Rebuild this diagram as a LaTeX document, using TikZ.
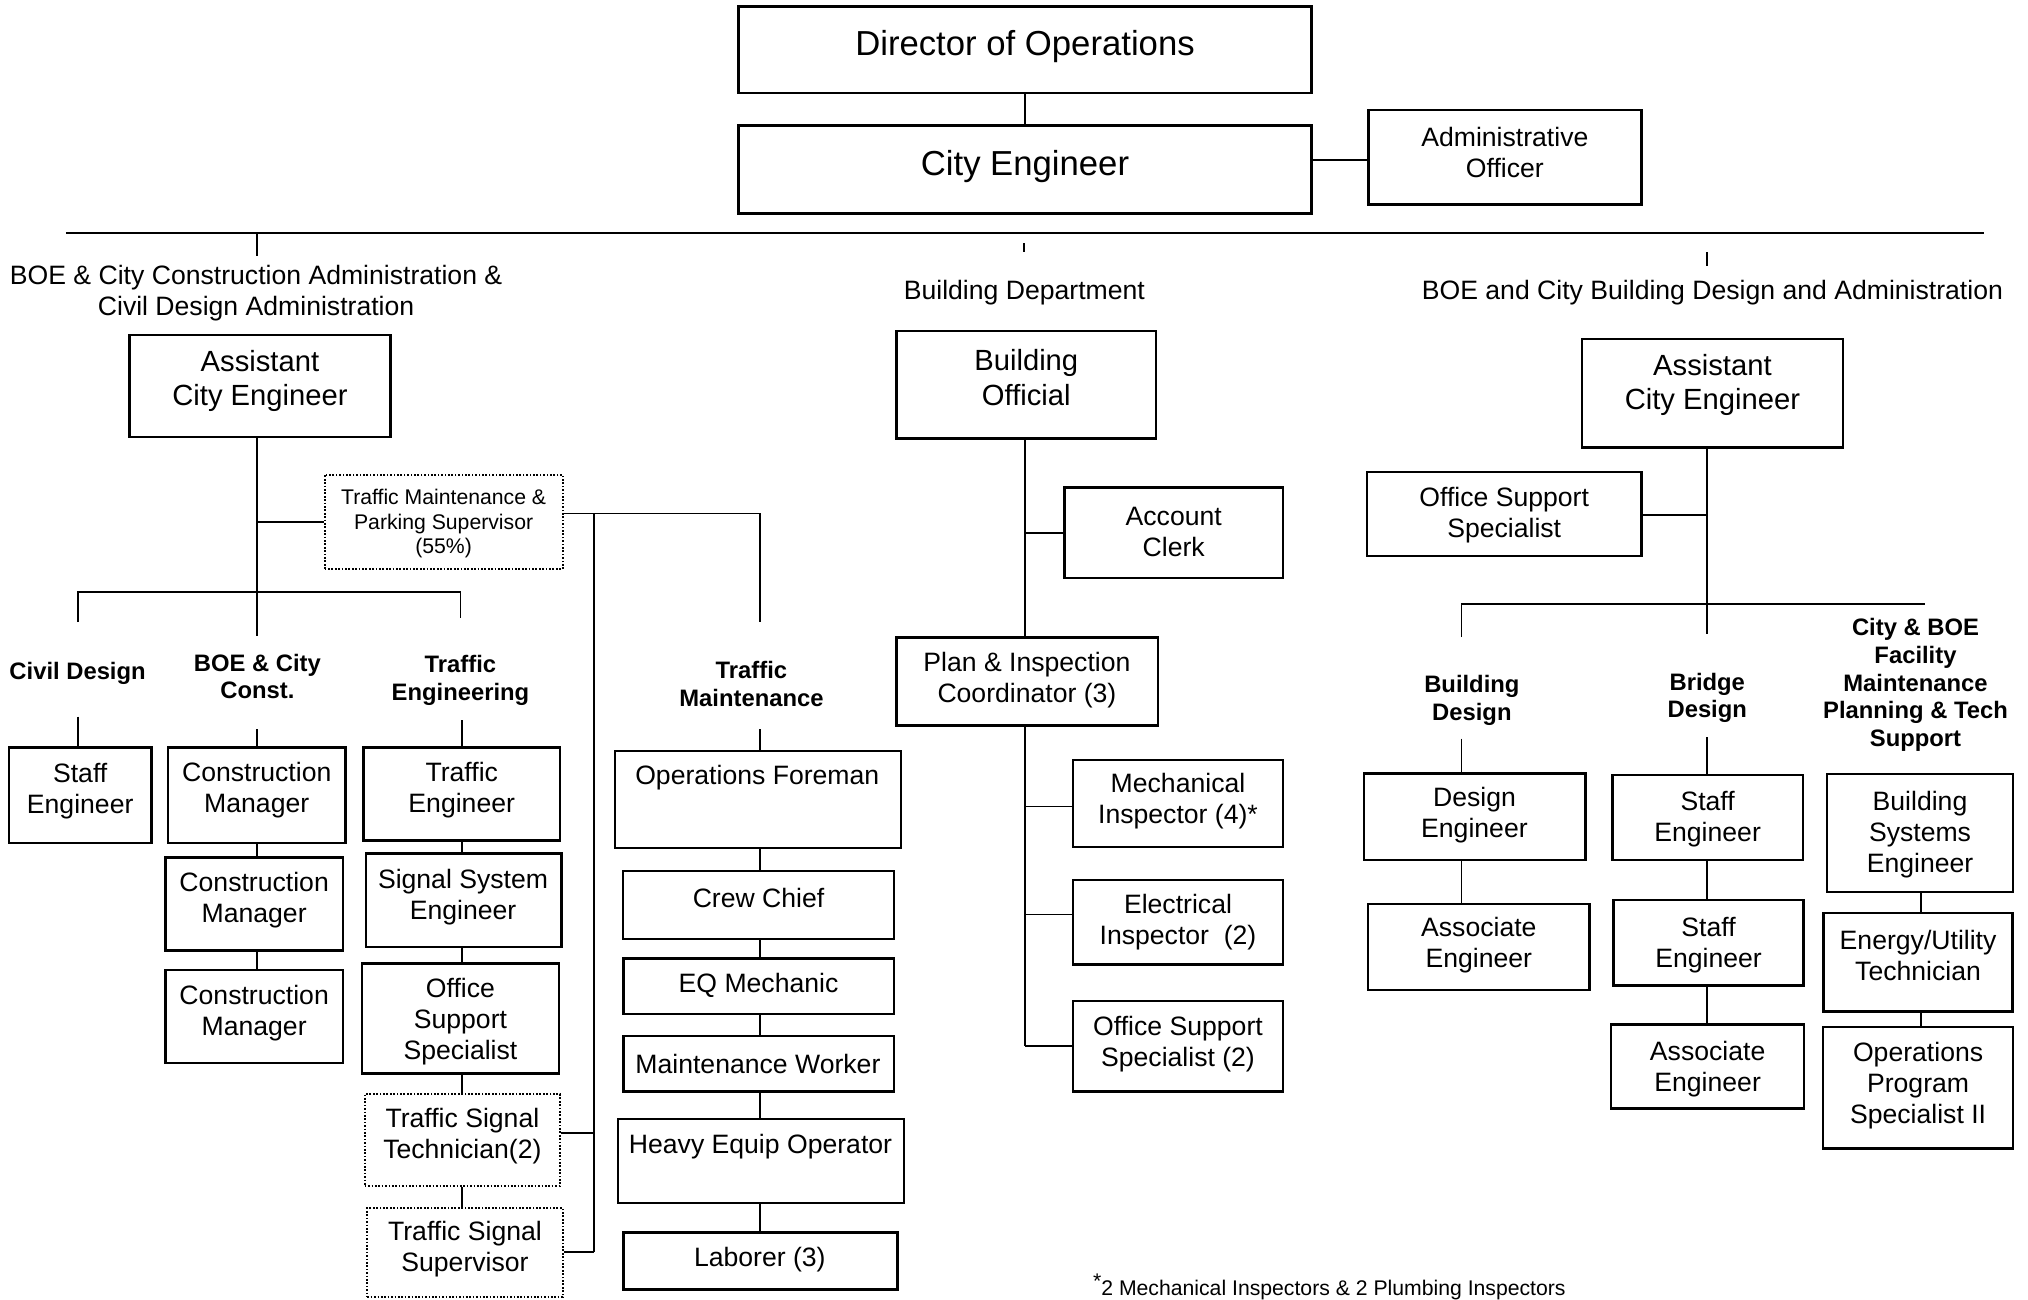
\documentclass[tikz,border=0pt]{standalone}
\usepackage{fontspec}
\setmainfont{Liberation Sans}
\usetikzlibrary{fit}
\begin{document}
\begin{tikzpicture}[x=1.29337pt, y=-1.29337pt,
  box/.style={draw, line width=2.4pt, inner sep=0pt},
  dotbox/.style={draw, line width=2.2pt, dash pattern=on 1.7pt off 1.7pt, inner sep=0pt},
  link/.style={line width=1.8pt},
  rule/.style={line width=2.6pt},
  txt/.style={align=center, inner sep=0pt, yshift=-2.6pt, font=\fontsize{26.6pt}{31pt}\selectfont},
  ttltxt/.style={txt, font=\fontsize{34.7pt}{40pt}\selectfont},
  bigtxt/.style={txt, font=\fontsize{29.2pt}{34.5pt}\selectfont},
  headtxt/.style={txt, font=\fontsize{23.8pt}{27.6pt}\selectfont\bfseries},
  smalltxt/.style={txt, font=\fontsize{21.2pt}{24.6pt}\selectfont},
]
\useasboundingbox (0,0) rectangle (1568,1005.1);

% ---------- top level ----------
\node[box, fit={(571,5) (1014,72)}] (dir) {};
\node[ttltxt] (dir-t) at (792.5,34) {Director of Operations};
\node[box, fit={(571,97) (1014,165)}] (ce) {};
\node[ttltxt] (ce-t) at (792.5,127) {City Engineer};
\node[box, fit={(1058,85) (1269,158)}] (ao) {};
\node[txt] (ao-t) at (1163.5,116) {Administrative\\Officer};
\draw[link] (dir) -- (ce);
\draw[link] (ce.east |- 0,124) -- (ao.west |- 0,124);

\coordinate (hl0) at (51,180);
\coordinate (hl1) at (1534,180);
\draw[rule] (hl0) -- (hl1);
\coordinate (tk1a) at (199,180); \coordinate (tk1b) at (199,198);
\coordinate (tk2a) at (792,188); \coordinate (tk2b) at (792,195);
\coordinate (tk3a) at (1320,195); \coordinate (tk3b) at (1320,206);
\draw[link] (tk1a) -- (tk1b);
\draw[link] (tk2a) -- (tk2b);
\draw[link] (tk3a) -- (tk3b);

\node[txt] (hd1) at (198,225) {BOE \& City Construction Administration \&\\Civil Design Administration};
\node[txt] (hd2) at (792,224.5) {Building Department};
\node[txt] (hd3) at (1324,224) {BOE and City Building Design and Administration};

% ---------- construction / civil / traffic ----------
\node[box, fit={(100,259) (302,338)}] (ace1) {};
\node[bigtxt] (ace1-t) at (201,292.5) {Assistant\\City Engineer};
\coordinate (lv) at (199,492);
\draw[link] (ace1.south -| lv) -- (lv);

\node[dotbox, fit={(251,367) (435,440)}] (tms) {};
\node[smalltxt] (tms-t) at (343,403) {Traffic Maintenance \&\\Parking Supervisor\\(55\%)};
\draw[link] (lv |- tms.west) -- (tms.west);

\coordinate (lb0) at (60,481); \coordinate (lb1) at (60,458);
\coordinate (lb2) at (356,458); \coordinate (lb3) at (356,478);
\draw[link] (lb0) -- (lb1) -- (lb2) -- (lb3);

\node[headtxt] (g1) at (60,519) {Civil Design};
\node[headtxt] (g2) at (199,521) {BOE \& City\\Const.};
\node[headtxt] (g3) at (356,524) {Traffic\\Engineering};
\node[headtxt] (g4) at (581,527) {Traffic\\Maintenance};

\node[box, fit={(7,578) (117,652)}] (se1) {};
\node[txt] (se1-t) at (62,609.5) {Staff\\Engineer};
\coordinate (g1t) at (60,554);
\draw[link] (g1t) -- (g1t |- se1.north);

\node[box, fit={(130,578) (267,652)}] (cm1) {};
\node[txt] (cm1-t) at (198.5,609) {Construction\\Manager};
\node[box, fit={(128,663) (265,735)}] (cm2) {};
\node[txt] (cm2-t) at (196.5,694) {Construction\\Manager};
\node[box, fit={(128,750) (265,822)}] (cm3) {};
\node[txt] (cm3-t) at (196.5,781) {Construction\\Manager};
\coordinate (g2t) at (199,564);
\draw[link] (g2t) -- (g2t |- cm1.north);
\draw[link] (cm1.south -| g2t) -- (cm2.north -| g2t);
\draw[link] (cm2.south -| g2t) -- (cm3.north -| g2t);

\node[box, fit={(281,578) (433,650)}] (te) {};
\node[txt] (te-t) at (357,609) {Traffic\\Engineer};
\node[box, fit={(283,660) (434,732)}] (sse) {};
\node[txt] (sse-t) at (358,692) {Signal System\\Engineer};
\node[box, fit={(280,745) (432,830)}] (oss1) {};
\node[txt] (oss1-t) at (356,787.7) {Office\\Support\\Specialist};
\node[dotbox, fit={(282,846) (433,917)}] (tst) {};
\node[txt] (tst-t) at (357.5,876.5) {Traffic Signal\\Technician(2)};
\node[dotbox, fit={(284,934) (435,1003)}] (tss) {};
\node[txt] (tss-t) at (359.5,964) {Traffic Signal\\Supervisor};
\coordinate (g3t) at (357,557);
\draw[link] (g3t) -- (g3t |- te.north);
\draw[link] (te.south -| g3t) -- (sse.north -| g3t);
\draw[link] (sse.south -| g3t) -- (oss1.north -| g3t);
\draw[link] (oss1.south -| g3t) -- (tst.north -| g3t);
\draw[link] (tst.south -| g3t) -- (tss.north -| g3t);

% traffic maintenance supervisor links
\coordinate (tmA) at (587.6,481);
\coordinate (tmV) at (459,968);
\draw[link] (tms.east |- 0,397) -- (tmA |- 0,397) -- (tmA);
\draw[link] (tmV |- 0,397) -- (tmV);
\draw[link] (tst.east |- 0,876) -- (tmV |- 0,876);
\draw[link] (tss.east |- tmV) -- (tmV);

% ---------- traffic maintenance ----------
\node[box, fit={(475.5,580.6) (696.6,655.5)}] (of) {};
\node[txt] (of-t) at (585.5,599) {Operations Foreman};
\node[box, fit={(481.7,673.5) (691.2,726)}] (cc) {};
\node[txt] (cc-t) at (586.5,692.4) {Crew Chief};
\node[box, fit={(482,741) (691,784)}] (eq) {};
\node[txt] (eq-t) at (586.5,760) {EQ Mechanic};
\node[box, fit={(482,801) (691,844)}] (mw) {};
\node[txt] (mw-t) at (586,820.5) {Maintenance Worker};
\node[box, fit={(478,865) (699,930)}] (he) {};
\node[txt] (he-t) at (588,884.5) {Heavy Equip Operator};
\node[box, fit={(482,953) (694,997)}] (lab) {};
\node[txt] (lab-t) at (587.5,972) {Laborer (3)};
\coordinate (g4t) at (587.6,564);
\draw[link] (g4t) -- (g4t |- of.north);
\draw[link] (of.south -| g4t) -- (cc.north -| g4t);
\draw[link] (cc.south -| g4t) -- (eq.north -| g4t);
\draw[link] (eq.south -| g4t) -- (mw.north -| g4t);
\draw[link] (mw.south -| g4t) -- (he.north -| g4t);
\draw[link] (he.south -| g4t) -- (lab.north -| g4t);

% ---------- building department ----------
\node[box, fit={(693,256) (894,339)}] (bo) {};
\node[bigtxt] (bo-t) at (793.5,290) {Building\\Official};
\node[box, fit={(823,377) (992,447)}] (ac) {};
\node[txt] (ac-t) at (907.5,409) {Account\\Clerk};
\node[box, fit={(693,493) (895.5,561)}] (pic) {};
\node[txt] (pic-t) at (794,524) {Plan \& Inspection\\Coordinator (3)};
\coordinate (bv) at (792.5,808.6);
\draw[link] (bo.south -| bv) -- (pic.north -| bv);
\draw[link] (bv |- ac.west) -- (ac.west);
\draw[link] (pic.south -| bv) -- (bv);

\node[box, fit={(829.6,587.7) (992,655)}] (mi) {};
\node[txt] (mi-t) at (910.8,617.6) {Mechanical\\Inspector (4)*};
\node[box, fit={(829.6,680.5) (992,745.6)}] (ei) {};
\node[txt] (ei-t) at (910.8,711) {Electrical\\Inspector\ \ (2)};
\node[box, fit={(829.6,774) (992,844)}] (os2) {};
\node[txt] (os2-t) at (910.8,805) {Office Support\\Specialist (2)};
\draw[link] (bv |- 0,623.6) -- (mi.west |- 0,623.6);
\draw[link] (bv |- 0,707) -- (ei.west |- 0,707);
\draw[link] (bv) -- (os2.west |- bv);

\node[smalltxt, anchor=base west, yshift=2.6pt] (note) at (845,1001.5) {\raisebox{0.3em}{*}2 Mechanical Inspectors \& 2 Plumbing Inspectors};

% ---------- building design and administration ----------
\node[box, fit={(1223,262) (1425,346)}] (ace2) {};
\node[bigtxt] (ace2-t) at (1324,295.5) {Assistant\\City Engineer};
\coordinate (rv) at (1320,490);
\draw[link] (ace2.south -| rv) -- (rv);
\node[box, fit={(1057,365) (1269,430)}] (oss2) {};
\node[txt] (oss2-t) at (1163,396) {Office Support\\Specialist};
\draw[link] (rv |- 0,398) -- (oss2.east |- 0,398);

\coordinate (rb0) at (1130,492.6); \coordinate (rb1) at (1130,467);
\coordinate (rb2) at (1488,467);
\draw[link] (rb0) -- (rb1) -- (rb2);

\node[headtxt] (g5) at (1138,539.5) {Building\\Design};
\node[headtxt] (g6) at (1320,537.5) {Bridge\\Design};
\node[headtxt] (g7) at (1481,527.5) {City \& BOE\\Facility\\Maintenance\\Planning \& Tech\\Support};

\node[box, fit={(1054.6,598) (1225.8,664.7)}] (de) {};
\node[txt] (de-t) at (1140,628.5) {Design\\Engineer};
\node[box, fit={(1057.7,699) (1229,765.5)}] (ae1) {};
\node[txt] (ae1-t) at (1143.4,729) {Associate\\Engineer};
\coordinate (g5t) at (1130,571);
\draw[link] (g5t) -- (g5t |- de.north);
\draw[link] (de.south -| g5t) -- (ae1.north -| g5t);

\node[box, fit={(1246.7,599) (1394,665)}] (se2) {};
\node[txt] (se2-t) at (1320.3,631.5) {Staff\\Engineer};
\node[box, fit={(1247.5,696) (1394.5,762)}] (se3) {};
\node[txt] (se3-t) at (1321,729) {Staff\\Engineer};
\node[box, fit={(1245.5,792) (1395,857)}] (ae2) {};
\node[txt] (ae2-t) at (1320.3,824.7) {Associate\\Engineer};
\coordinate (g6t) at (1320,570);
\draw[link] (g6t) -- (g6t |- se2.north);
\draw[link] (se2.south -| g6t) -- (se3.north -| g6t);
\draw[link] (se3.south -| g6t) -- (ae2.north -| g6t);

\node[box, fit={(1412.6,598.6) (1556.4,689.6)}] (bse) {};
\node[txt] (bse-t) at (1484.5,643) {Building\\Systems\\Engineer};
\node[box, fit={(1410,706) (1556,782)}] (eut) {};
\node[txt] (eut-t) at (1483,737) {Energy/Utility\\Technician};
\node[box, fit={(1409.6,794) (1556.4,888)}] (ops) {};
\node[txt] (ops-t) at (1483,837) {Operations\\Program\\Specialist II};
\coordinate (g7t) at (1485,0);
\draw[link] (bse.south -| g7t) -- (eut.north -| g7t);
\draw[link] (eut.south -| g7t) -- (ops.north -| g7t);
\end{tikzpicture}
\end{document}
